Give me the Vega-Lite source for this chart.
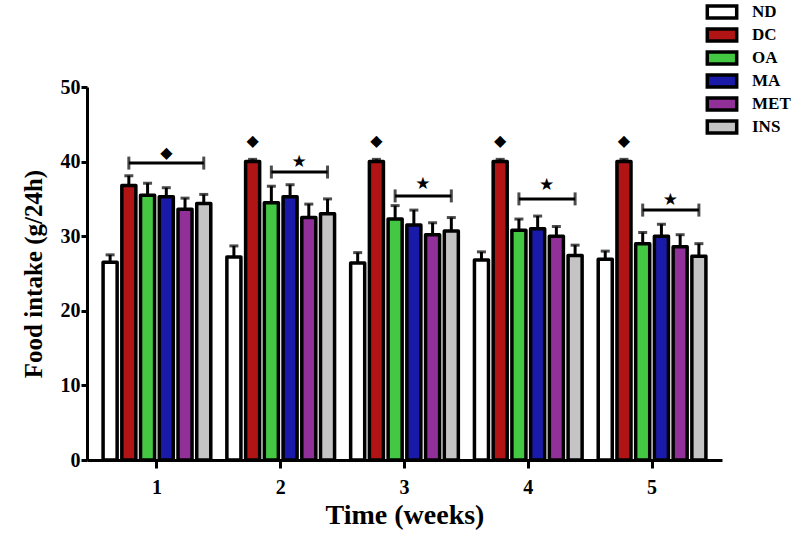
{
  "$schema": "https://vega.github.io/schema/vega-lite/v6.json",
  "autosize": "none",
  "width": 635,
  "height": 373,
  "padding": {"left": 87, "top": 87, "right": 78, "bottom": 78},
  "background": "white",
  "config": {
    "view": {"stroke": null},
    "font": "Liberation Serif",
    "axis": {
      "domainColor": "black", "domainWidth": 3, "tickColor": "black", "tickWidth": 3,
      "labelFont": "Liberation Serif", "labelFontWeight": "bold", "labelFontSize": 20, "labelColor": "black",
      "titleFont": "Liberation Serif", "titleFontWeight": "bold", "titleColor": "black", "grid": false
    }
  },
  "datasets": {
    "bars": [
      {"week": "1", "group": "ND", "mean": 26.5, "err": 1.0},
      {"week": "1", "group": "DC", "mean": 36.8, "err": 1.3},
      {"week": "1", "group": "OA", "mean": 35.5, "err": 1.6},
      {"week": "1", "group": "MA", "mean": 35.3, "err": 1.2},
      {"week": "1", "group": "MET", "mean": 33.6, "err": 1.5},
      {"week": "1", "group": "INS", "mean": 34.4, "err": 1.2},
      {"week": "2", "group": "ND", "mean": 27.2, "err": 1.5},
      {"week": "2", "group": "DC", "mean": 40.0, "err": 0.3},
      {"week": "2", "group": "OA", "mean": 34.5, "err": 2.2},
      {"week": "2", "group": "MA", "mean": 35.3, "err": 1.6},
      {"week": "2", "group": "MET", "mean": 32.5, "err": 1.8},
      {"week": "2", "group": "INS", "mean": 33.0, "err": 2.0},
      {"week": "3", "group": "ND", "mean": 26.4, "err": 1.4},
      {"week": "3", "group": "DC", "mean": 40.0, "err": 0.3},
      {"week": "3", "group": "OA", "mean": 32.3, "err": 1.8},
      {"week": "3", "group": "MA", "mean": 31.5, "err": 2.0},
      {"week": "3", "group": "MET", "mean": 30.2, "err": 1.6},
      {"week": "3", "group": "INS", "mean": 30.7, "err": 1.8},
      {"week": "4", "group": "ND", "mean": 26.8, "err": 1.1},
      {"week": "4", "group": "DC", "mean": 40.0, "err": 0.3},
      {"week": "4", "group": "OA", "mean": 30.8, "err": 1.5},
      {"week": "4", "group": "MA", "mean": 31.0, "err": 1.7},
      {"week": "4", "group": "MET", "mean": 30.0, "err": 1.3},
      {"week": "4", "group": "INS", "mean": 27.4, "err": 1.4},
      {"week": "5", "group": "ND", "mean": 26.9, "err": 1.1},
      {"week": "5", "group": "DC", "mean": 40.0, "err": 0.3},
      {"week": "5", "group": "OA", "mean": 29.0, "err": 1.5},
      {"week": "5", "group": "MA", "mean": 30.0, "err": 1.6},
      {"week": "5", "group": "MET", "mean": 28.6, "err": 1.6},
      {"week": "5", "group": "INS", "mean": 27.3, "err": 1.7}
    ],
    "brackets": [
      {"week": "1", "group": "DC", "level": 39.8},
      {"week": "1", "group": "INS", "level": 39.8},
      {"week": "2", "group": "OA", "level": 38.6},
      {"week": "2", "group": "INS", "level": 38.6},
      {"week": "3", "group": "OA", "level": 35.4},
      {"week": "3", "group": "INS", "level": 35.4},
      {"week": "4", "group": "OA", "level": 35.0},
      {"week": "4", "group": "INS", "level": 35.0},
      {"week": "5", "group": "OA", "level": 33.5},
      {"week": "5", "group": "INS", "level": 33.5}
    ],
    "diamonds": [
      {"week": "1", "group": "MA", "level": 41.2},
      {"week": "2", "group": "DC", "level": 42.7},
      {"week": "3", "group": "DC", "level": 42.7},
      {"week": "4", "group": "DC", "level": 42.7},
      {"week": "5", "group": "DC", "level": 42.7}
    ],
    "stars": [
      {"week": "2", "group": "MA", "level": 39.9},
      {"week": "3", "group": "MA", "level": 37.0},
      {"week": "4", "group": "MA", "level": 36.9},
      {"week": "5", "group": "MA", "level": 34.9}
    ]
  },
  "encoding": {
    "x": {
      "field": "week", "type": "ordinal",
      "scale": {"paddingInner": 0.13, "paddingOuter": 0.13},
      "axis": {"title": "Time (weeks)", "titleFontSize": 28, "labelAngle": 0, "tickSize": 8, "labelPadding": 9, "titlePadding": 4}
    },
    "xOffset": {
      "field": "group", "type": "nominal",
      "scale": {"domain": ["ND", "DC", "OA", "MA", "MET", "INS"], "paddingInner": 0.25, "paddingOuter": 0}
    }
  },
  "layer": [
    {
      "data": {"name": "bars"},
      "mark": {"type": "bar", "stroke": "black", "strokeWidth": 3.5, "strokeJoin": "round"},
      "encoding": {
        "y": {
          "field": "mean", "type": "quantitative",
          "scale": {"domain": [0, 50]},
          "axis": {"title": "Food intake (g/24h)", "titleFontSize": 25, "values": [0, 10, 20, 30, 40, 50], "tickSize": 6, "labelPadding": 1, "titlePadding": 14}
        },
        "fill": {
          "field": "group", "type": "nominal",
          "scale": {"domain": ["ND", "DC", "OA", "MA", "MET", "INS"], "range": ["#ffffff", "#b01414", "#44c844", "#1a1aa8", "#92309a", "#c4c4c4"]},
          "legend": {
            "title": null, "orient": "none", "legendX": 626, "legendY": -84,
            "symbolType": "M-2.1,-0.85H2.1V0.85H-2.1Z", "symbolSize": 196, "symbolStrokeColor": "black", "symbolStrokeWidth": 3.5,
            "labelFont": "Liberation Serif", "labelFontWeight": "bold", "labelFontSize": 17, "labelColor": "black",
            "labelOffset": 21, "rowPadding": -3
          }
        }
      }
    },
    {
      "data": {"name": "bars"},
      "transform": [{"calculate": "datum.mean + datum.err", "as": "upper"}],
      "mark": {"type": "rule", "color": "black", "strokeWidth": 3},
      "encoding": {
        "y": {"field": "mean", "type": "quantitative"},
        "y2": {"field": "upper"}
      }
    },
    {
      "data": {"name": "bars"},
      "transform": [{"calculate": "datum.mean + datum.err", "as": "upper"}],
      "mark": {"type": "tick", "color": "black", "orient": "horizontal", "size": 9, "thickness": 3},
      "encoding": {
        "y": {"field": "upper", "type": "quantitative"}
      }
    },
    {
      "data": {"name": "brackets"},
      "mark": {"type": "line", "color": "black", "strokeWidth": 3},
      "encoding": {
        "y": {"field": "level", "type": "quantitative"},
        "detail": {"field": "week"}
      }
    },
    {
      "data": {"name": "brackets"},
      "mark": {"type": "tick", "color": "black", "orient": "vertical", "size": 13, "thickness": 3},
      "encoding": {
        "y": {"field": "level", "type": "quantitative"}
      }
    },
    {
      "data": {"name": "diamonds"},
      "mark": {"type": "text", "text": "◆", "font": "DejaVu Sans", "fontSize": 16, "color": "black", "baseline": "middle"},
      "encoding": {
        "y": {"field": "level", "type": "quantitative"}
      }
    },
    {
      "data": {"name": "stars"},
      "mark": {"type": "text", "text": "★", "font": "DejaVu Sans", "fontSize": 17, "color": "black", "baseline": "middle", "dx": 9},
      "encoding": {
        "y": {"field": "level", "type": "quantitative"}
      }
    }
  ]
}
